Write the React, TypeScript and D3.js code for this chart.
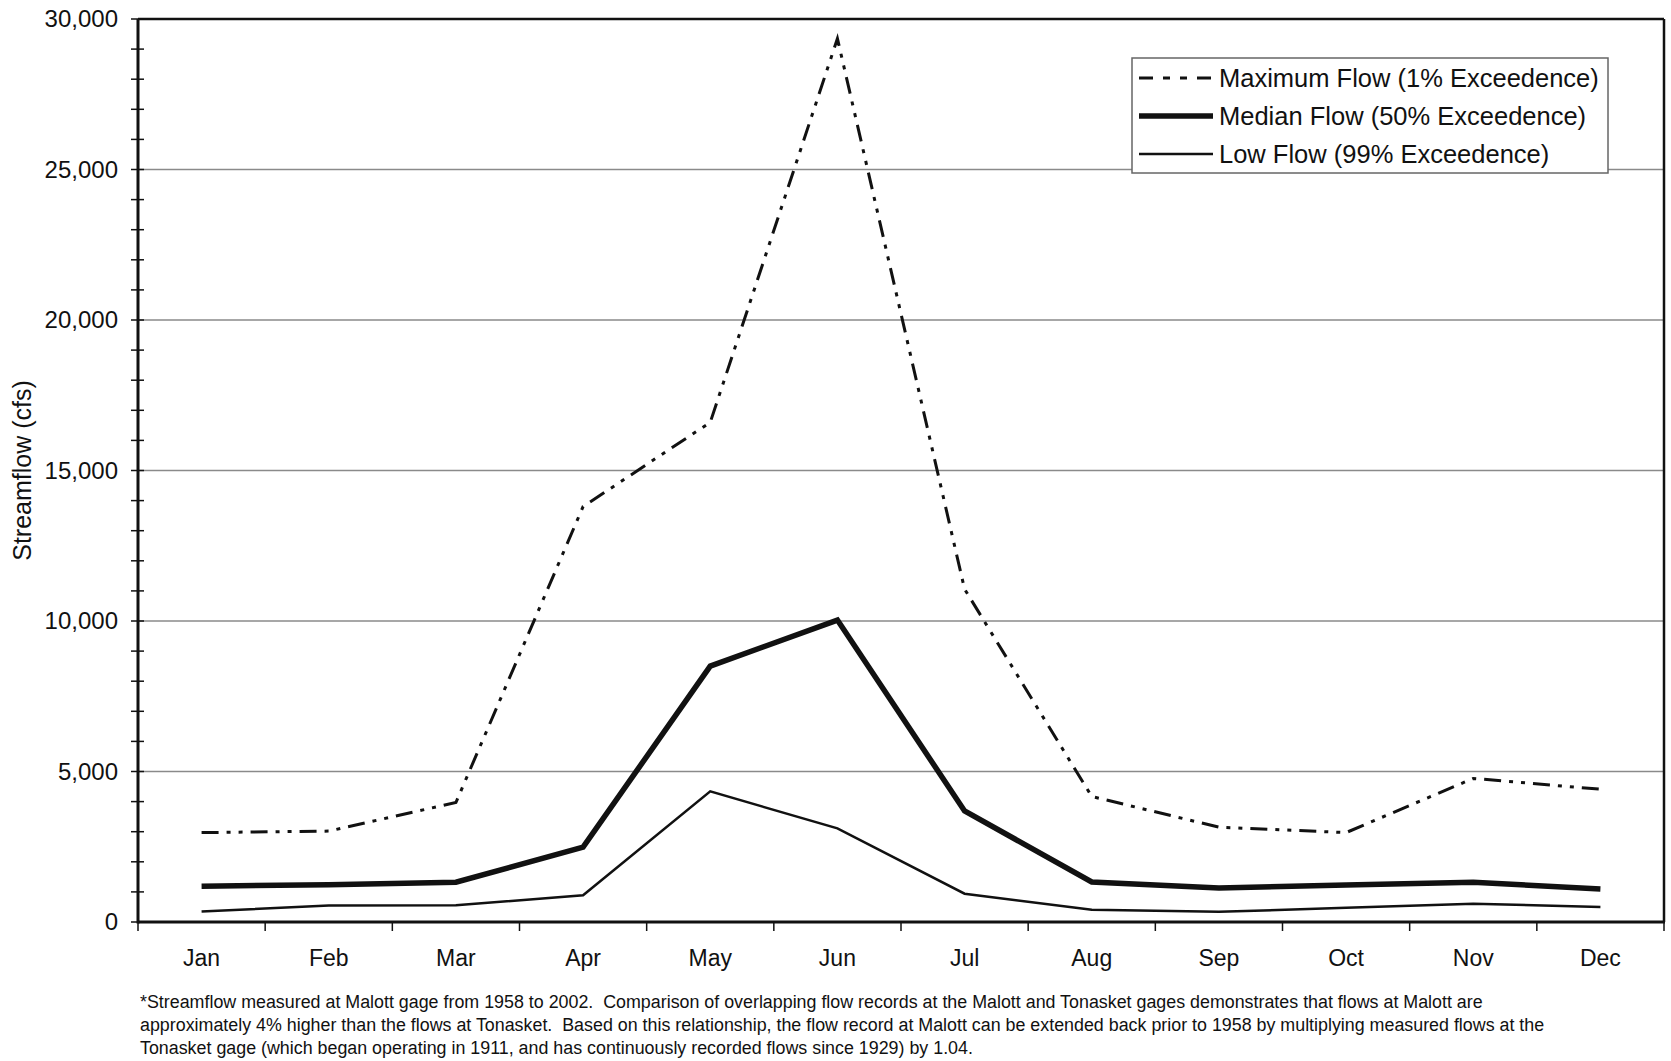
import React from 'react';
import * as d3 from 'd3';

const MONTHS = ['Jan', 'Feb', 'Mar', 'Apr', 'May', 'Jun', 'Jul', 'Aug', 'Sep', 'Oct', 'Nov', 'Dec'];
const MAX_FLOW = [2970, 3020, 3970, 13800, 16600, 29350, 11060, 4170, 3150, 2970, 4770, 4410];
const MEDIAN_FLOW = [1190, 1240, 1320, 2490, 8500, 10030, 3690, 1330, 1130, 1230, 1320, 1100];
const LOW_FLOW = [350, 545, 555, 890, 4340, 3110, 940, 410, 340, 470, 610, 500];
const Y_TICKS = [0, 5000, 10000, 15000, 20000, 25000, 30000];
const LEGEND_LABELS = [
  'Maximum Flow (1% Exceedence)',
  'Median Flow (50% Exceedence)',
  'Low Flow (99% Exceedence)',
];
const FOOTNOTE = [
  '*Streamflow measured at Malott gage from 1958 to 2002.  Comparison of overlapping flow records at the Malott and Tonasket gages demonstrates that flows at Malott are',
  'approximately 4% higher than the flows at Tonasket.  Based on this relationship, the flow record at Malott can be extended back prior to 1958 by multiplying measured flows at the',
  'Tonasket gage (which began operating in 1911, and has continuously recorded flows since 1929) by 1.04.',
];

const W = 1671;
const H = 1061;
const FONT = '"Liberation Sans", Arial, sans-serif';

const App: React.FC = () => {
  const left = 138;
  const right = 1664;
  const top = 19;
  const bottom = 922;

  const xBand = d3.scaleBand<string>().domain(MONTHS).range([left, right]);
  const xPoint = d3.scalePoint<string>().domain(MONTHS).range([left, right]).padding(0.5);
  const y = d3.scaleLinear().domain([0, 30000]).range([bottom, top]);

  const line = d3.line<number>()
    .x((_, i) => xPoint(MONTHS[i]) as number)
    .y(d => y(d));

  // max flow uses a long dash / dot / dot pattern like the original
  const series = [
    { data: MAX_FLOW, width: 3, dash: '17,8,4,8,4,8' },
    { data: MEDIAN_FLOW, width: 5.5, dash: undefined },
    { data: LOW_FLOW, width: 2.5, dash: undefined },
  ];

  const minorTicks = d3.range(0, 30001, 1000);
  const boundaries = [...MONTHS.map(m => xBand(m) as number), right];

  // legend box
  const lg = { x: 1132, y: 58, w: 476, h: 115 };
  const rowY = [78, 116, 154];

  return (
    <div style={{ position: 'absolute', left: 0, top: 0 }}>
      <svg width={W} height={H} style={{ display: 'block', background: '#fff' }} fontFamily={FONT}>
        {/* gridlines */}
        {Y_TICKS.filter(t => t > 0 && t < 30000).map(t => (
          <line key={t} x1={left} x2={right} y1={y(t)} y2={y(t)} stroke="#8a8a8a" strokeWidth={1.5} />
        ))}

        {/* frame top/right */}
        <line x1={left} x2={right} y1={top} y2={top} stroke="#111" strokeWidth={2.5} />
        <line x1={right} x2={right} y1={top} y2={bottom} stroke="#111" strokeWidth={2.5} />

        {/* y axis ticks */}
        {minorTicks.map(t => (
          <line key={t} x1={left - 7} x2={left + 6} y1={y(t)} y2={y(t)} stroke="#111" strokeWidth={1.5} />
        ))}
        {Y_TICKS.map(t => (
          <text key={t} x={118} y={y(t)} dy="0.35em" textAnchor="end" fontSize={24} fill="#111">
            {d3.format(',')(t)}
          </text>
        ))}

        {/* x axis ticks */}
        {boundaries.map((b, i) => (
          <line key={i} x1={b} x2={b} y1={bottom} y2={bottom + 9} stroke="#111" strokeWidth={1.5} />
        ))}
        {MONTHS.map(m => (
          <text key={m} x={xPoint(m)} y={966} textAnchor="middle" fontSize={23} fill="#111">
            {m}
          </text>
        ))}

        {/* axes */}
        <line x1={left} x2={left} y1={top} y2={bottom + 1.5} stroke="#111" strokeWidth={3} />
        <line x1={left} x2={right + 1} y1={bottom} y2={bottom} stroke="#111" strokeWidth={3} />

        {/* series */}
        {series.map((s, i) => (
          <path key={i} d={line(s.data) || ''} fill="none" stroke="#111" strokeWidth={s.width}
            strokeDasharray={s.dash} strokeLinejoin="miter" />
        ))}

        {/* legend */}
        <rect x={lg.x} y={lg.y} width={lg.w} height={lg.h} fill="#fff" stroke="#666" strokeWidth={1.5} />
        {LEGEND_LABELS.map((label, i) => (
          <g key={label}>
            <line x1={1139} x2={1213} y1={rowY[i]} y2={rowY[i]} stroke="#111"
              strokeWidth={series[i].width} strokeDasharray={i === 0 ? '14,10,7,10,7,10' : undefined} />
            <text x={1219} y={rowY[i]} dy="0.35em" fontSize={25.5} fill="#111">{label}</text>
          </g>
        ))}

        {/* y label */}
        <text transform={`translate(31, ${(top + bottom) / 2}) rotate(-90)`} textAnchor="middle"
          fontSize={25} fill="#111">
          Streamflow (cfs)
        </text>

        {/* footnote */}
        {FOOTNOTE.map((t, i) => (
          <text key={i} x={140} y={1002 + i * 23} dy="0.35em" fontSize={17.85} fill="#111"
            style={{ whiteSpace: 'pre' }}>
            {t}
          </text>
        ))}
      </svg>
    </div>
  );
};

export default App;
